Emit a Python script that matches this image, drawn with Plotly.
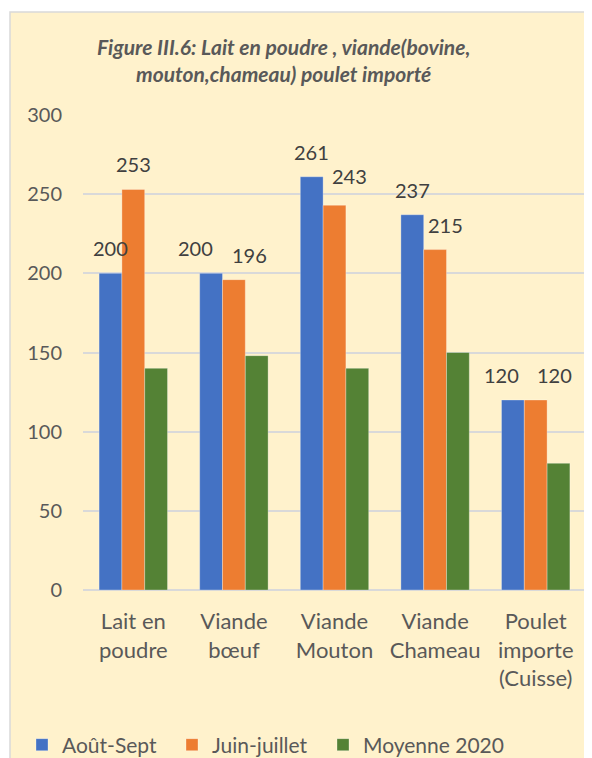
import plotly.graph_objects as go

categories = ["Lait en<br>poudre", "Viande<br>bœuf", "Viande<br>Mouton", "Viande<br>Chameau", "Poulet<br>importe<br>(Cuisse)"]
series_names = ["Août-Sept", "Juin-juillet", "Moyenne 2020"]
aout_sept = [200, 200, 261, 237, 120]
juin_juillet = [253, 196, 243, 215, 120]
moyenne_2020 = [140, 148, 140, 150, 80]
y_ticks = [0, 50, 100, 150, 200, 250, 300]

# styling: colours, data-label nudges (px) and legend slots as in the reference
colors = ["#4472C4", "#ED7D31", "#548235"]
label_xshift = [[0, -16, 0, 0, -11], [0, 16, 15, 10, 19], None]
label_yshift_extra = [[0, 0, 0, 0, 0], [0, 0, 4, 0, 0], None]
legend_left_px = [22, 172, 323]

series = [aout_sept, juin_juillet, moyenne_2020]

OFF = 8  # page body margin
W, H = 592 - OFF, 758 - OFF
PLOT_L, PLOT_R, PLOT_T, PLOT_B = 83, 586, 115, 590  # page px
ML = PLOT_L - OFF
MT = PLOT_T - OFF
MR = W - (PLOT_R - OFF)
MB = H - (PLOT_B - OFF)
BARGAP = 0.32
FONT = "Lato"
TXT = "#595959"

plot_w = W - ML - MR
plot_h = H - MT - MB
def px_x(p):
    return (p - OFF - ML) / plot_w
def px_y(p):
    return (H - MB - (p - OFF)) / plot_h

fig = go.Figure()
xs = list(range(len(categories)))
legend_names = ["legend", "legend2", "legend3"]
for name, vals, col, lg in zip(series_names, series, colors, legend_names):
    fig.add_trace(go.Bar(
        x=xs, y=vals, name=name, legend=lg,
        marker=dict(color=col, line=dict(color="rgba(255,255,255,0.5)", width=0.6)),
    ))

bw = (1 - BARGAP) / len(series)
annotations = []
for i, vals in enumerate(series):
    if label_xshift[i] is None:
        continue
    off = (i - (len(series) - 1) / 2) * bw
    for j, v in enumerate(vals):
        annotations.append(dict(
            x=j + off, y=v, xref="x", yref="y", text=str(v), showarrow=False,
            yanchor="bottom", xshift=label_xshift[i][j], yshift=11 + label_yshift_extra[i][j],
            font=dict(family=FONT, size=20, color="#404040"),
        ))

annotations.append(dict(
    x=px_x(283), y=px_y(60), xref="paper", yref="paper", showarrow=False,
    xanchor="center", yanchor="middle",
    text="<b><i>Figure III.6: Lait en poudre , viande(bovine,<br>mouton,chameau) poulet importé</i></b>",
    font=dict(family=FONT, size=21, color=TXT),
))

legend_style = dict(orientation="h", xanchor="left", y=px_y(745), yanchor="middle",
                    font=dict(family=FONT, size=21, color=TXT), itemwidth=30,
                    bgcolor="rgba(0,0,0,0)")

fig.update_layout(
    width=W, height=H,
    margin=dict(l=ML, r=MR, t=MT, b=MB, autoexpand=False),
    paper_bgcolor="#FFF2CC", plot_bgcolor="rgba(0,0,0,0)",
    barmode="group", bargap=BARGAP, bargroupgap=0,
    font=dict(family=FONT, size=20, color=TXT),
    annotations=annotations,
    shapes=[
        dict(type="rect", xref="paper", yref="paper", layer="below",
             x0=px_x(0), x1=px_x(10), y0=px_y(0), y1=px_y(800),
             fillcolor="white", line=dict(width=0)),
        dict(type="rect", xref="paper", yref="paper", layer="below",
             x0=px_x(0), x1=px_x(640), y0=px_y(0), y1=px_y(12),
             fillcolor="white", line=dict(width=0)),
        dict(type="rect", xref="paper", yref="paper", layer="below",
             x0=px_x(10), x1=px_x(640), y0=px_y(12), y1=px_y(820),
             fillcolor="rgba(0,0,0,0)", line=dict(color="#D9D9D9", width=1.5)),
    ],
    legend=dict(x=px_x(legend_left_px[0]), **legend_style),
    legend2=dict(x=px_x(legend_left_px[1]), **legend_style),
    legend3=dict(x=px_x(legend_left_px[2]), **legend_style),
    xaxis=dict(tickmode="array", tickvals=xs, ticktext=categories, range=[-0.5, 4.5],
               showgrid=False, showline=False, zeroline=False, ticks="",
               tickfont=dict(family=FONT, size=22, color=TXT), ticklabelstandoff=16,
               automargin=False),
    yaxis=dict(range=[0, 300], tickmode="array", tickvals=y_ticks, showgrid=True,
               gridcolor="#D9D9D9", gridwidth=1.5, zeroline=True, zerolinecolor="#D9D9D9",
               zerolinewidth=1.5, showline=False, ticks="",
               tickfont=dict(family=FONT, size=20, color=TXT), ticklabelstandoff=20,
               automargin=False),
    showlegend=True,
)

fig.write_html("out.html")
